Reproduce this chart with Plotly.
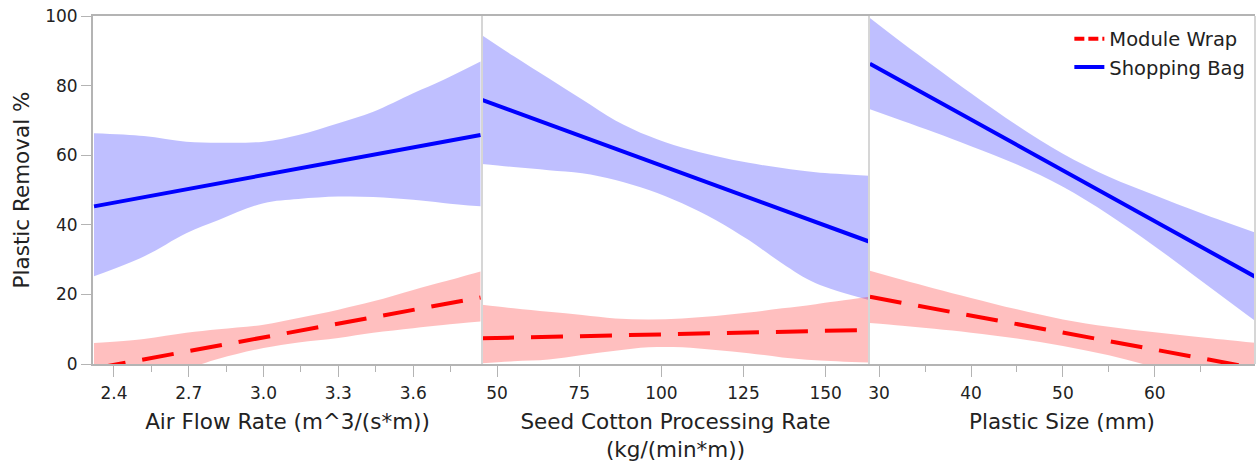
import plotly.graph_objects as go

# ---------------- data ----------------
# Panel 1: Air Flow Rate
air_x = [2.32, 2.52, 2.69, 2.82, 3.0, 3.14, 3.3, 3.44, 3.6, 3.72, 3.87]
air_bag_upper = [66.3, 65.5, 63.9, 63.6, 63.9, 65.8, 69.2, 72.5, 77.8, 81.6, 86.9]
air_bag_lower = [25.2, 30.9, 37.6, 41.4, 46.2, 47.4, 48.1, 48.0, 47.2, 46.3, 45.3]
air_wrap_upper = [6.0, 7.2, 9.0, 10.0, 11.3, 13.2, 15.6, 18.0, 21.3, 23.6, 26.6]
air_wrap_lower = [-9.0, -5.5, -1.5, 1.5, 4.6, 6.2, 7.5, 9.0, 10.3, 11.2, 12.2]
air_line_x = [2.32, 3.87]
air_bag_line = [45.3, 65.8]
air_wrap_line = [-1.3, 19.1]

# Panel 2: Seed Cotton Processing Rate
seed_x = [45.4, 55.0, 65.7, 75.9, 86.0, 96.2, 106.3, 116.5, 126.6, 136.8, 147.0, 163.2]
seed_bag_upper = [94.5, 88.5, 82.1, 76.0, 70.0, 65.5, 62.2, 59.8, 57.8, 56.3, 55.1, 54.1]
seed_bag_lower = [57.5, 56.6, 55.7, 54.8, 52.9, 50.0, 46.2, 41.4, 35.6, 28.9, 23.2, 18.4]
seed_wrap_upper = [17.0, 16.0, 15.0, 14.1, 13.1, 12.8, 13.1, 13.8, 14.8, 16.0, 17.2, 19.3]
seed_wrap_lower = [0.2, 0.8, 1.3, 2.6, 3.8, 4.8, 4.8, 4.0, 3.1, 1.9, 1.1, 0.4]
seed_line_x = [45.4, 163.2]
seed_bag_line = [75.9, 35.2]
seed_wrap_line = [7.4, 9.8]

# Panel 3: Plastic Size
size_x = [29.0, 32.5, 36.0, 40.0, 45.0, 50.0, 55.0, 60.0, 65.0, 70.9]
size_bag_upper = [99.4, 92.3, 85.5, 77.8, 68.6, 60.4, 53.8, 48.5, 43.4, 37.8]
size_bag_lower = [73.2, 69.9, 66.6, 62.6, 57.3, 50.9, 42.9, 33.8, 24.0, 12.4]
size_wrap_upper = [26.8, 24.2, 21.7, 19.0, 15.7, 12.8, 10.7, 9.1, 7.7, 6.1]
size_wrap_lower = [11.8, 11.0, 10.1, 9.0, 7.3, 5.2, 2.5, -0.9, -4.3, -8.5]
size_line_x = [29.0, 70.9]
size_bag_line = [86.3, 25.1]
size_wrap_line = [19.3, -1.2]

series_names = ["Module Wrap", "Shopping Bag"]
x_titles = ["Air Flow Rate (m^3/(s*m))",
            "Seed Cotton Processing Rate<br>(kg/(min*m))",
            "Plastic Size (mm)"]
y_title = "Plastic Removal %"
y_ticks = [0, 20, 40, 60, 80, 100]
air_ticks = [2.4, 2.7, 3.0, 3.3, 3.6]
air_ticktext = ["2.4", "2.7", "3.0", "3.3", "3.6"]
air_minor = [2.55, 2.85, 3.15, 3.45, 3.75]
seed_ticks = [50, 75, 100, 125, 150]
size_ticks = [30, 40, 50, 60]
size_minor = [35, 45, 55, 65]

# ---------------- styling ----------------
FONT = "DejaVu Sans"
BLUE = "#0000FF"
RED = "#FF0000"
BLUE_FILL = "rgba(0,0,255,0.25)"
RED_FILL = "rgba(255,0,0,0.25)"
AXIS_GRAY = "#b4b4b4"
SEP_GRAY = "#d6d6d6"
TEXT = "#222222"
TICK_SIZE = 17
TITLE_SIZE = 21.5

fig = go.Figure()

panels = [
    ("x", air_x, air_bag_upper, air_bag_lower, air_wrap_upper, air_wrap_lower,
     air_line_x, air_bag_line, air_wrap_line),
    ("x2", seed_x, seed_bag_upper, seed_bag_lower, seed_wrap_upper, seed_wrap_lower,
     seed_line_x, seed_bag_line, seed_wrap_line),
    ("x3", size_x, size_bag_upper, size_bag_lower, size_wrap_upper, size_wrap_lower,
     size_line_x, size_bag_line, size_wrap_line),
]

for xa, bx, bu, bl, wu, wl, lx, bline, wline in panels:
    fig.add_trace(go.Scatter(x=bx, y=bu, xaxis=xa, yaxis="y", mode="lines",
                             line=dict(width=0, color=BLUE, shape="spline"),
                             showlegend=False, hoverinfo="skip"))
    fig.add_trace(go.Scatter(x=bx, y=bl, xaxis=xa, yaxis="y", mode="lines",
                             line=dict(width=0, color=BLUE, shape="spline"),
                             fill="tonexty", fillcolor=BLUE_FILL,
                             showlegend=False, hoverinfo="skip"))
    fig.add_trace(go.Scatter(x=bx, y=wu, xaxis=xa, yaxis="y", mode="lines",
                             line=dict(width=0, color=RED, shape="spline"),
                             showlegend=False, hoverinfo="skip"))
    fig.add_trace(go.Scatter(x=bx, y=wl, xaxis=xa, yaxis="y", mode="lines",
                             line=dict(width=0, color=RED, shape="spline"),
                             fill="tonexty", fillcolor=RED_FILL,
                             showlegend=False, hoverinfo="skip"))
    fig.add_trace(go.Scatter(x=lx, y=bline, xaxis=xa, yaxis="y", mode="lines",
                             line=dict(width=4, color=BLUE), showlegend=False,
                             name=series_names[1]))
    fig.add_trace(go.Scatter(x=lx, y=wline, xaxis=xa, yaxis="y", mode="lines",
                             line=dict(width=4, color=RED, dash="32px,17px"),
                             showlegend=False, name=series_names[0]))

# legend-only entries
fig.add_trace(go.Scatter(x=[None], y=[None], mode="lines", name=series_names[0],
                         line=dict(width=4, color=RED, dash="10px,4px"),
                         xaxis="x3", yaxis="y"))
fig.add_trace(go.Scatter(x=[None], y=[None], mode="lines", name=series_names[1],
                         line=dict(width=4, color=BLUE), xaxis="x3", yaxis="y"))

L, R = 93, 1255
W = R - L
d1 = (482 - L) / W
d2 = (869 - L) / W

common_x = dict(showline=True, linecolor=AXIS_GRAY, linewidth=2, mirror=True,
                ticks="outside", ticklen=11, tickwidth=1, tickcolor=AXIS_GRAY,
                ticklabelstandoff=2,
                showgrid=False, zeroline=False, anchor="y",
                tickfont=dict(family=FONT, size=TICK_SIZE, color=TEXT),
                title_font=dict(family=FONT, size=TITLE_SIZE, color=TEXT))

fig.update_layout(
    width=1256, height=465,
    margin=dict(l=L, r=1256 - R, t=16, b=101),
    paper_bgcolor="white", plot_bgcolor="white",
    font=dict(family=FONT, color=TEXT),
    xaxis=dict(domain=[0, d1], range=[2.316, 3.876], tickvals=air_ticks,
               ticktext=air_ticktext,
               minor=dict(tickvals=air_minor, ticks="outside", ticklen=6,
                          tickcolor=AXIS_GRAY),
               title=dict(text=x_titles[0], standoff=12), **common_x),
    xaxis2=dict(domain=[d1, d2], range=[45.4, 163.2], tickvals=seed_ticks,
                title=dict(text=x_titles[1], standoff=12), **common_x),
    xaxis3=dict(domain=[d2, 1], range=[28.9, 70.9], tickvals=size_ticks,
                minor=dict(tickvals=size_minor, ticks="outside", ticklen=6,
                           tickcolor=AXIS_GRAY),
                title=dict(text=x_titles[2], standoff=12), **common_x),
    yaxis=dict(domain=[0, 1], range=[0, 100], tickvals=y_ticks,
               showline=True, linecolor=AXIS_GRAY, linewidth=2,
               ticks="outside", ticklen=10, tickcolor=AXIS_GRAY,
               showgrid=False, zeroline=False, anchor="x",
               tickfont=dict(family=FONT, size=TICK_SIZE, color=TEXT),
               title=dict(text=y_title, standoff=10,
                          font=dict(family=FONT, size=TITLE_SIZE, color=TEXT))),
    legend=dict(x=0.996, xanchor="right", y=0.99, yanchor="top",
                traceorder="normal",
                bgcolor="rgba(0,0,0,0)", borderwidth=0,
                font=dict(family=FONT, size=19.5, color=TEXT),
                tracegroupgap=0),
    shapes=[
        dict(type="line", xref="paper", yref="paper", x0=d1, x1=d1, y0=0, y1=1,
             line=dict(color=SEP_GRAY, width=2)),
        dict(type="line", xref="paper", yref="paper", x0=d2, x1=d2, y0=0, y1=1,
             line=dict(color=SEP_GRAY, width=2)),
        dict(type="line", xref="paper", yref="paper", x0=1, x1=1, y0=0, y1=1,
             line=dict(color=SEP_GRAY, width=2)),
    ],
)

fig.write_html("out.html")
